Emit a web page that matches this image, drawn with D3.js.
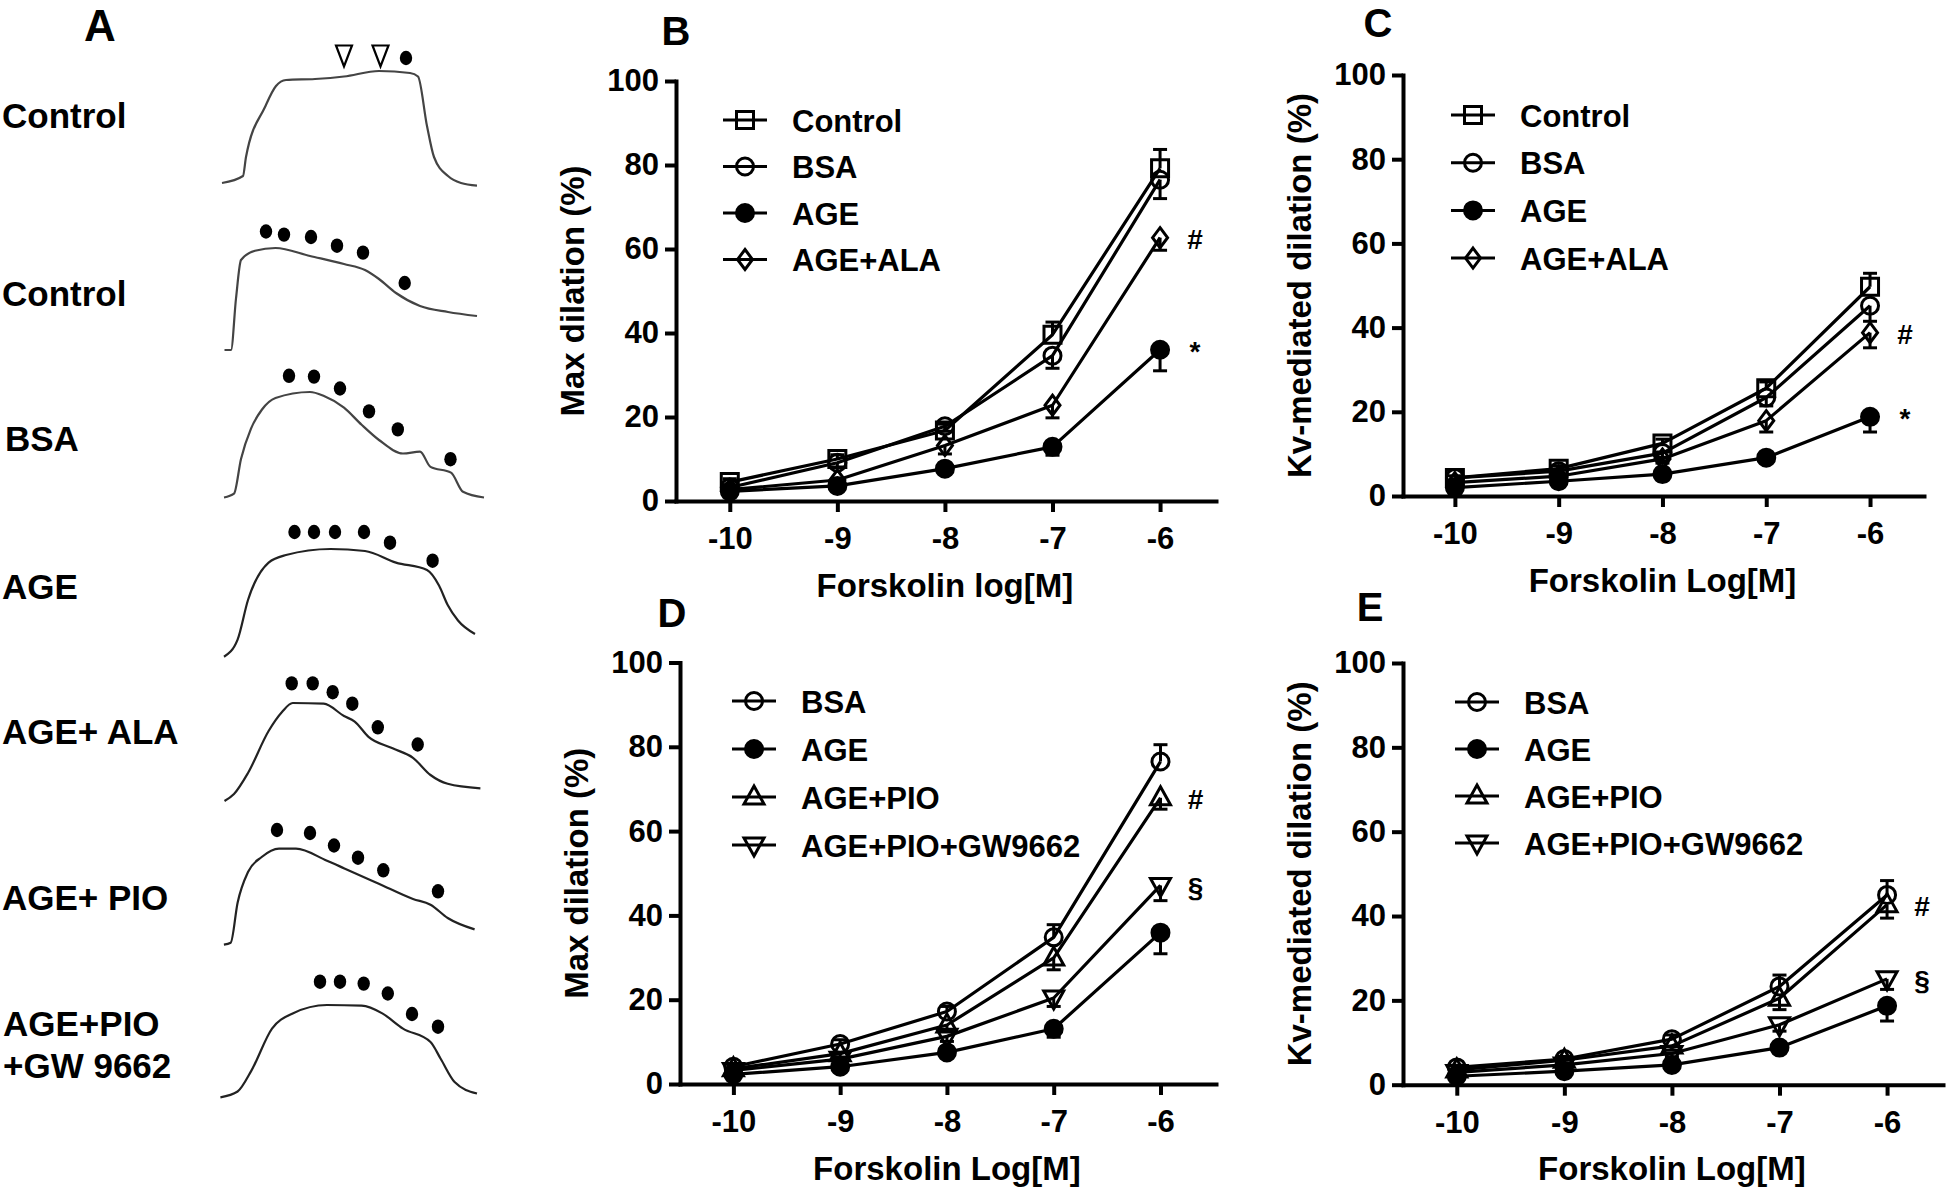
<!DOCTYPE html>
<html><head><meta charset="utf-8">
<script src="https://cdn.jsdelivr.net/npm/d3@7"></script>
<style>
body{margin:0;background:#fff}
svg{display:block;background:#fff}
text{font-family:"Liberation Sans",Arial,Helvetica,sans-serif;font-weight:bold;fill:#000}
</style>
</head><body>
<svg id="fig" width="1946" height="1188"></svg>
<script>
// ---------------- DATA ----------------
const doses = [-10, -9, -8, -7, -6];
const xTickLabels = ["-10", "-9", "-8", "-7", "-6"];
const yTickValues = [0, 20, 40, 60, 80, 100];
const yTickLabels = ["0", "20", "40", "60", "80", "100"];

// Panel B: Max dilation (%)
const bNames = ["Control", "BSA", "AGE", "AGE+ALA"];
const bControl = [4.5, 10.0, 16.8, 39.6, 79.2];
const bControlErr = [0.8, 1.0, 1.5, 3.0, 4.5];
const bBSA = [3.2, 9.1, 17.8, 34.6, 76.5];
const bBSAErr = [0.8, 1.0, 1.2, 3.0, 4.5];
const bAGE = [2.3, 3.6, 7.7, 12.9, 36.0];
const bAGEErr = [0.5, 0.7, 1.0, 2.0, 5.0];
const bALA = [2.7, 5.0, 13.2, 22.8, 62.7];
const bALAErr = [0.5, 0.8, 2.0, 3.0, 3.0];

// Panel C: Kv-mediated dilation (%)
const cNames = ["Control", "BSA", "AGE", "AGE+ALA"];
const cControl = [4.3, 6.5, 12.5, 25.6, 49.7];
const cControlErr = [0.5, 0.7, 1.0, 1.5, 3.2];
const cBSA = [4.3, 5.9, 10.2, 23.4, 45.2];
const cBSAErr = [0.5, 0.6, 1.0, 2.0, 3.7];
const cAGE = [2.0, 3.5, 5.2, 9.1, 18.8];
const cAGEErr = [0.5, 0.5, 0.8, 1.0, 3.6];
const cALA = [3.2, 4.7, 8.8, 17.9, 38.8];
const cALAErr = [0.5, 0.6, 1.0, 2.7, 3.6];

// Panel D: Max dilation (%)
const dNames = ["BSA", "AGE", "AGE+PIO", "AGE+PIO+GW9662"];
const dBSA = [4.1, 9.5, 17.2, 34.8, 76.5];
const dBSAErr = [0.5, 1.0, 1.2, 3.0, 4.0];
const dAGE = [2.3, 4.1, 7.5, 13.1, 35.9];
const dAGEErr = [0.5, 0.7, 1.0, 2.0, 5.0];
const dPIO = [3.6, 7.2, 14.0, 29.9, 67.9];
const dPIOErr = [0.5, 0.8, 1.5, 2.8, 2.7];
const dGW = [3.2, 5.9, 11.3, 20.4, 47.1];
const dGWErr = [0.5, 0.7, 1.2, 2.0, 3.6];

// Panel E: Kv-mediated dilation (%)
const eNames = ["BSA", "AGE", "AGE+PIO", "AGE+PIO+GW9662"];
const eBSA = [4.1, 6.1, 10.8, 23.3, 45.0];
const eBSAErr = [0.5, 0.6, 1.0, 2.7, 3.4];
const eAGE = [2.0, 3.2, 4.7, 8.8, 18.7];
const eAGEErr = [0.5, 0.5, 0.7, 1.0, 3.6];
const ePIO = [3.5, 5.8, 9.2, 20.5, 42.7];
const ePIOErr = [0.5, 0.6, 1.0, 2.7, 3.2];
const eGW = [2.9, 4.7, 7.4, 14.2, 25.1];
const eGWErr = [0.5, 0.6, 0.8, 1.5, 2.5];

// Significance marks: [symbol, series index]
const bMarks = [["#", 3], ["*", 2]];
const cMarks = [["#", 3], ["*", 2]];
const dMarks = [["#", 2], ["\u00A7", 3]];
const eMarks = [["#", 2], ["\u00A7", 3]];

// Panel A: diameter traces, [time, diameter] (arbitrary units)
const traceLabels = ["Control", "Control", "BSA", "AGE", "AGE+ ALA", "AGE+ PIO", "AGE+PIO", "+GW 9662"];
const trace1 = [[2,3],[23,10],[26,29],[45,79],[56,100],[66,106],[95,107],[124,109.5],[159,115],[190,113],[198,109.5],[207,60],[214,29],[228,10],[241,3],[257,0.4]];
const trace2 = [[4.5,2],[11,2],[16,53.5],[21,92],[35,101.3],[55.5,104],[90,96],[124,88],[145,82],[159,73],[176,59],[200,46],[228,40],[257,36]];
const trace3 = [[4,2.5],[14,6.3],[21,41],[31,71.4],[42,90.5],[55.5,102],[90,108],[104,104],[124,92.4],[141.6,75.2],[159,60],[183,46.5],[200,48.4],[210.5,33.1],[231,27.4],[243,8.2],[264,2.5]];
const trace4 = [[4,3.3],[17.6,20.4],[28,60],[48.6,97.4],[66,105],[110.6,111],[145,109],[176,97.4],[207,90],[219,74.5],[227.7,55],[238,39.5],[255,26]];
const trace5 = [[4.5,2],[14,9],[28,30],[48.6,72],[62,91],[72.7,100],[103.7,99.3],[124,87],[134.7,81.4],[148.5,66.2],[172.6,54.7],[193,45.2],[210.5,28],[227.7,19.2],[260.4,14.7]];
const trace6 = [[3.9,2.3],[10.7,4.2],[17.6,44.3],[28,75],[41.7,90],[59,98.4],[76,98.4],[107,86.2],[124.4,78.6],[158.8,63.3],[193,48],[210.5,42.3],[227.7,29],[254.6,17.6]];
const trace7 = [[0.4,2.7],[17.6,8.5],[31.4,29.4],[52,71.4],[72.7,86.6],[107,95],[141.6,94.3],[162.3,86.6],[183,71.4],[210.5,58],[220.8,41],[234.6,18],[257,6.5]];
// drug-application dots [time, height] per trace
const dots1 = [[186,128]];
const tris1 = [[124,130.5],[160.5,130.5]];
const dots2 = [[46,120.5],[64,117.4],[91,115],[117,106.3],[143,99.4],[184.7,69]];
const dots3 = [[69,124.2],[94,123.4],[120,111.5],[149,88.6],[177.8,70.6],[230.5,40.8]];
const dots4 = [[74.5,128],[94,128],[115,128],[144,128],[170,117.3],[212.6,99.3]];
const dots5 = [[71.7,119.6],[92.7,119.6],[112.7,110.8],[132.3,99.3],[157.8,75.7],[197.7,58.5]];
const dots6 = [[57,117],[90,114],[114,101.5],[138,89.3],[163.3,76.7],[218,55.7]];
const dots7 = [[100,118.3],[120,118.3],[143.7,116.4],[167.8,106.5],[192,86],[218,73.3]];

// ---------------- DRAW ----------------
const svg = d3.select("#fig");
const FONT = '"Liberation Sans", Arial, Helvetica, sans-serif';

const markerPaths = {
  square: "M-8.5,-8.5H8.5V8.5H-8.5Z",
  diamond: "M0,-10L7.5,0L0,10L-7.5,0Z",
  triUp: "M0,-11L10,7L-10,7Z",
  triDown: "M0,11L10,-7L-10,-7Z"
};
function drawMarker(g, shape, cx, cy) {
  if (shape === "circle" || shape === "dot") {
    g.append("circle").attr("cx", cx).attr("cy", cy).attr("r", 8.5)
      .attr("fill", shape === "dot" ? "#000" : "none")
      .attr("stroke", "#000").attr("stroke-width", 3);
  } else {
    g.append("path").attr("d", markerPaths[shape])
      .attr("transform", `translate(${cx},${cy})`)
      .attr("fill", "none").attr("stroke", "#000").attr("stroke-width", 3)
      .attr("stroke-linejoin", "miter");
  }
}

function drawPanel(cfg) {
  const g = svg.append("g");
  const x = d3.scaleLinear().domain([-10.5, -5.48]).range([cfg.axisX, cfg.axisEnd]);
  const y = d3.scaleLinear().domain([0, 100]).range([cfg.y0, cfg.y100]);

  g.append("text").attr("x", cfg.letterX).attr("y", cfg.letterY)
    .attr("text-anchor", "middle").attr("dominant-baseline", "central")
    .style("font-size", "40px").text(cfg.letter);

  const xa = g.append("g").attr("transform", `translate(0,${cfg.y0})`)
    .call(d3.axisBottom(x).tickValues(doses).tickSize(11).tickSizeOuter(0).tickPadding(15)
      .tickFormat((d, i) => xTickLabels[i]));
  const ya = g.append("g").attr("transform", `translate(${cfg.axisX},0)`)
    .call(d3.axisLeft(y).tickValues(yTickValues).tickSize(11).tickSizeOuter(0).tickPadding(6)
      .tickFormat((d, i) => yTickLabels[i]));
  [xa, ya].forEach(a => {
    a.attr("font-family", FONT).attr("font-size", 31).attr("font-weight", "bold");
    a.select(".domain").attr("stroke", "#000").attr("stroke-width", 4).attr("stroke-linecap", "square");
    a.selectAll(".tick line").attr("stroke", "#000").attr("stroke-width", 4);
    a.selectAll(".tick text").attr("fill", "#000");
  });

  g.append("text").attr("x", (x(-10) + x(-6)) / 2).attr("y", cfg.y0 + 84)
    .attr("text-anchor", "middle").attr("dominant-baseline", "central")
    .style("font-size", "33px").text(cfg.xTitle);
  g.append("text")
    .attr("transform", `translate(${cfg.axisX - 104},${(cfg.y0 + cfg.y100) / 2}) rotate(-90)`)
    .attr("text-anchor", "middle").attr("dominant-baseline", "central")
    .style("font-size", "33px").text(cfg.yTitle);

  const line = d3.line().x((d, i) => x(doses[i])).y(d => y(d));

  cfg.series.forEach(s => {
    g.append("path").attr("d", line(s.values)).attr("fill", "none")
      .attr("stroke", "#000").attr("stroke-width", 3.2).attr("stroke-linejoin", "round");
  });
  cfg.series.forEach(s => {
    s.values.forEach((v, i) => {
      const e = s.err[i] * (s.dir === "up" ? 1 : -1);
      const xx = x(doses[i]);
      g.append("line").attr("x1", xx).attr("x2", xx).attr("y1", y(v)).attr("y2", y(v + e))
        .attr("stroke", "#000").attr("stroke-width", 3);
      g.append("line").attr("x1", xx - 7).attr("x2", xx + 7).attr("y1", y(v + e)).attr("y2", y(v + e))
        .attr("stroke", "#000").attr("stroke-width", 3);
    });
  });
  cfg.series.forEach(s => {
    s.values.forEach((v, i) => drawMarker(g, s.shape, x(doses[i]), y(v)));
  });
  cfg.marks.forEach(([sym, idx]) => {
    const s = cfg.series[idx];
    g.append("text").attr("x", x(-6) + 35).attr("y", y(s.values[4]) + 2)
      .attr("text-anchor", "middle").attr("dominant-baseline", "central")
      .style("font-size", "28px").text(sym);
  });
  cfg.series.forEach((s, i) => {
    const ly = cfg.legY + i * cfg.legStep;
    g.append("line").attr("x1", cfg.legX - 22).attr("x2", cfg.legX + 22).attr("y1", ly).attr("y2", ly)
      .attr("stroke", "#000").attr("stroke-width", 3);
    drawMarker(g, s.shape, cfg.legX, ly);
    g.append("text").attr("x", cfg.legX + 47).attr("y", ly + 1)
      .attr("dominant-baseline", "central").style("font-size", "31px").text(s.name);
  });
}

const shapesBC = ["square", "circle", "dot", "diamond"];
const shapesDE = ["circle", "dot", "triUp", "triDown"];

drawPanel({
  letter: "B", letterX: 676, letterY: 31,
  axisX: 676, axisEnd: 1216, y0: 501, y100: 81,
  xTitle: "Forskolin log[M]", yTitle: "Max dilation (%)",
  legX: 745, legY: 120, legStep: 46.5,
  series: [
    {name: bNames[0], values: bControl, err: bControlErr, dir: "up", shape: shapesBC[0]},
    {name: bNames[1], values: bBSA, err: bBSAErr, dir: "down", shape: shapesBC[1]},
    {name: bNames[2], values: bAGE, err: bAGEErr, dir: "down", shape: shapesBC[2]},
    {name: bNames[3], values: bALA, err: bALAErr, dir: "down", shape: shapesBC[3]}
  ],
  marks: bMarks
});
drawPanel({
  letter: "C", letterX: 1378, letterY: 23,
  axisX: 1403, axisEnd: 1924, y0: 496, y100: 75,
  xTitle: "Forskolin Log[M]", yTitle: "Kv-mediated dilation (%)",
  legX: 1473, legY: 115, legStep: 47.7,
  series: [
    {name: cNames[0], values: cControl, err: cControlErr, dir: "up", shape: shapesBC[0]},
    {name: cNames[1], values: cBSA, err: cBSAErr, dir: "down", shape: shapesBC[1]},
    {name: cNames[2], values: cAGE, err: cAGEErr, dir: "down", shape: shapesBC[2]},
    {name: cNames[3], values: cALA, err: cALAErr, dir: "down", shape: shapesBC[3]}
  ],
  marks: cMarks
});
drawPanel({
  letter: "D", letterX: 672, letterY: 613,
  axisX: 680, axisEnd: 1216, y0: 1084, y100: 662.5,
  xTitle: "Forskolin Log[M]", yTitle: "Max dilation (%)",
  legX: 754, legY: 701, legStep: 48,
  series: [
    {name: dNames[0], values: dBSA, err: dBSAErr, dir: "up", shape: shapesDE[0]},
    {name: dNames[1], values: dAGE, err: dAGEErr, dir: "down", shape: shapesDE[1]},
    {name: dNames[2], values: dPIO, err: dPIOErr, dir: "down", shape: shapesDE[2]},
    {name: dNames[3], values: dGW, err: dGWErr, dir: "down", shape: shapesDE[3]}
  ],
  marks: dMarks
});
drawPanel({
  letter: "E", letterX: 1370, letterY: 607,
  axisX: 1403, axisEnd: 1943, y0: 1084.7, y100: 663,
  xTitle: "Forskolin Log[M]", yTitle: "Kv-mediated dilation (%)",
  legX: 1477, legY: 702, legStep: 47,
  series: [
    {name: eNames[0], values: eBSA, err: eBSAErr, dir: "up", shape: shapesDE[0]},
    {name: eNames[1], values: eAGE, err: eAGEErr, dir: "down", shape: shapesDE[1]},
    {name: eNames[2], values: ePIO, err: ePIOErr, dir: "down", shape: shapesDE[2]},
    {name: eNames[3], values: eGW, err: eGWErr, dir: "down", shape: shapesDE[3]}
  ],
  marks: eMarks
});

// ---------------- PANEL A ----------------
const gA = svg.append("g");
gA.append("text").attr("x", 100).attr("y", 25).attr("text-anchor", "middle")
  .attr("dominant-baseline", "central").style("font-size", "44px").text("A");

const labelY = [115, 293, 438, 586, 731, 897, 1023, 1065];
const labelX = [2, 2, 5, 2, 2, 2, 3, 3];
traceLabels.forEach((t, i) => {
  gA.append("text").attr("x", labelX[i]).attr("y", labelY[i])
    .attr("dominant-baseline", "central").style("font-size", "35px").text(t);
});

const tx = d3.scaleLinear().domain([0, 265]).range([220, 485]);
const rowBases = [186, 352, 500, 660, 803, 947, 1100];
const traces = [trace1, trace2, trace3, trace4, trace5, trace6, trace7];
const dotSets = [dots1, dots2, dots3, dots4, dots5, dots6, dots7];
traces.forEach((tr, r) => {
  const ty = d3.scaleLinear().domain([0, 130]).range([rowBases[r], rowBases[r] - 130]);
  const ln = d3.line().x(d => tx(d[0])).y(d => ty(d[1])).curve(d3.curveMonotoneX);
  gA.append("path").attr("d", ln(tr)).attr("fill", "none")
    .attr("stroke", r < 3 ? "#444" : "#222").attr("stroke-width", 2.2)
    .attr("stroke-linejoin", "round");
  dotSets[r].forEach(d => {
    gA.append("ellipse").attr("cx", tx(d[0])).attr("cy", ty(d[1]))
      .attr("rx", 6.2).attr("ry", 7.2).attr("fill", "#000");
  });
  if (r === 0) {
    tris1.forEach(d => {
      const cx = tx(d[0]), cy = ty(d[1]);
      gA.append("path").attr("d", `M${cx - 8},${cy - 10}L${cx + 8},${cy - 10}L${cx},${cy + 11}Z`)
        .attr("fill", "#fff").attr("stroke", "#000").attr("stroke-width", 2.2);
    });
  }
});
</script>
</body></html>
